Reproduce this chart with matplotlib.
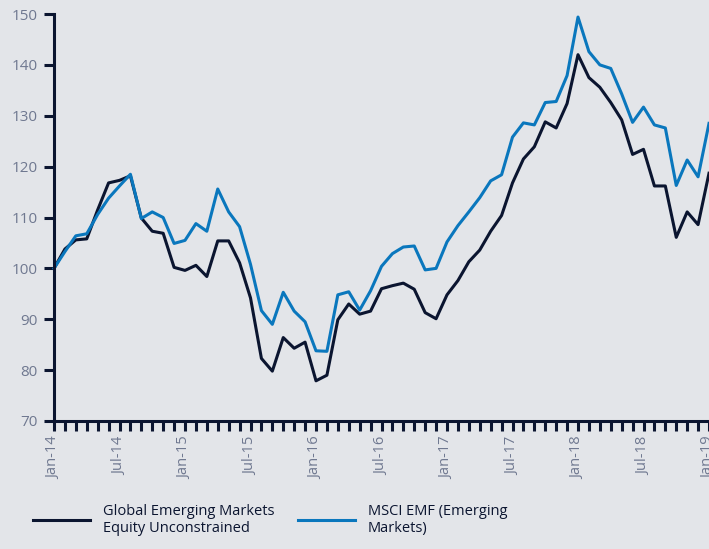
import numpy as np
import matplotlib.pyplot as plt
from matplotlib.ticker import FixedLocator, MultipleLocator

# colours
bg = '#e3e5e9'
navy = '#0b1530'
blue = '#0a77bd'
grey = '#6f7890'

plt.rcParams['font.family'] = ['Open Sans', 'DejaVu Sans']

# monthly index values, Jan-14 .. Jan-19
gem = [100.0, 103.8, 105.6, 105.8, 111.5, 116.8, 117.3, 118.2, 109.9, 107.3,
       106.9, 100.2, 99.6, 100.6, 98.4, 105.4, 105.4, 101.1, 94.2, 82.3,
       79.8, 86.4, 84.3, 85.5, 77.9, 79.0, 89.9, 93.0, 91.0, 91.6,
       96.0, 96.6, 97.1, 95.9, 91.3, 90.1, 94.8, 97.6, 101.3, 103.6,
       107.3, 110.4, 116.8, 121.5, 123.9, 128.8, 127.6, 132.4, 142.0, 137.5,
       135.6, 132.6, 129.2, 122.4, 123.4, 116.2, 116.2, 106.1, 111.1, 108.6,
       118.7]
msci = [100.0, 103.3, 106.4, 106.8, 110.6, 113.8, 116.2, 118.5, 109.8, 111.1,
        110.0, 104.9, 105.5, 108.8, 107.3, 115.6, 111.1, 108.2, 100.8, 91.7,
        89.0, 95.3, 91.6, 89.5, 83.8, 83.7, 94.8, 95.4, 91.8, 95.6,
        100.4, 102.9, 104.2, 104.4, 99.7, 100.0, 105.2, 108.4, 111.1, 113.9,
        117.2, 118.4, 125.8, 128.6, 128.2, 132.6, 132.8, 137.9, 149.4, 142.6,
        140.0, 139.3, 134.3, 128.7, 131.7, 128.2, 127.6, 116.3, 121.3, 118.0,
        128.5]
tick_pos = [0, 6, 12, 18, 24, 30, 36, 42, 48, 54, 60]
tick_lab = ['Jan-14', 'Jul-14', 'Jan-15', 'Jul-15', 'Jan-16', 'Jul-16',
            'Jan-17', 'Jul-17', 'Jan-18', 'Jul-18', 'Jan-19']

fig = plt.figure(figsize=(7.09, 5.49), dpi=100, facecolor=bg)
ax = fig.add_axes([54/709, 128/549, 655/709, 407/549], facecolor=bg)

x = np.arange(len(gem))
ax.plot(x, gem, color=navy, lw=2.2, label='Global Emerging Markets\nEquity Unconstrained', clip_on=False)
ax.plot(x, msci, color=blue, lw=2.2, label='MSCI EMF (Emerging\nMarkets)', clip_on=False)

ax.set_xlim(0, 60)
ax.set_ylim(70, 150)
ax.set_yticks(np.arange(70, 151, 10))
ax.xaxis.set_major_locator(FixedLocator(tick_pos))
ax.set_xticklabels(tick_lab, rotation=90)
ax.xaxis.set_minor_locator(MultipleLocator(1))

for s in ['top', 'right']:
    ax.spines[s].set_visible(False)
for s in ['left', 'bottom']:
    ax.spines[s].set_color(navy)
    ax.spines[s].set_linewidth(2.2)

ax.tick_params(axis='both', which='both', color=navy, width=2.2, length=7,
               labelcolor=grey, labelsize=10.5)
ax.tick_params(axis='x', which='both', pad=4)
ax.tick_params(axis='y', pad=5, labelsize=11)

fig.legend(loc='lower left', bbox_to_anchor=(20/709, 0.0), ncol=2, frameon=False,
           fontsize=10.5, labelcolor=navy, handlelength=3.9, handletextpad=0.9,
           columnspacing=1.6, labelspacing=0.2)

fig.savefig('out.png', dpi=100, facecolor=bg)
